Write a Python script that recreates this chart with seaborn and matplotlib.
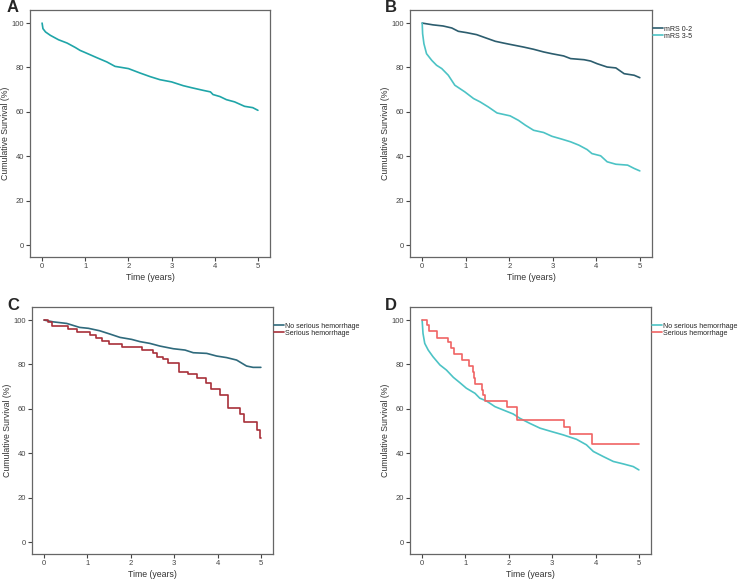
import numpy as np
import pandas as pd
import matplotlib
matplotlib.use("Agg")
import matplotlib.pyplot as plt
import seaborn as sns

sns.set_style("ticks")
plt.rcParams['font.family'] = ['Liberation Sans', 'DejaVu Sans']

# ---- data (time in years, survival in %) ----
# A: overall
a_t = [0, 0.02, 0.08, 0.19, 0.38, 0.58, 0.77, 0.88, 1.0, 1.27, 1.5, 1.69, 2.0, 2.27, 2.5,
       2.73, 3.0, 3.27, 3.46, 3.73, 3.9, 3.96, 4.12, 4.27, 4.46, 4.69, 4.88, 5.0]
a_s = [100, 97.5, 96, 94.5, 92.5, 91, 89, 87.7, 86.7, 84.4, 82.5, 80.5, 79.5, 77.5, 75.9,
       74.5, 73.5, 71.8, 70.9, 69.7, 69, 67.8, 66.9, 65.5, 64.5, 62.5, 61.9, 60.7]

# B: by mRS
b1_t = [0, 0.25, 0.48, 0.68, 0.83, 1.02, 1.25, 1.45, 1.68, 1.87, 2.02, 2.33, 2.56, 2.79,
        2.98, 3.25, 3.41, 3.72, 3.87, 4.02, 4.25, 4.45, 4.64, 4.87, 5.0]
b1_s = [100, 99.2, 98.7, 97.8, 96.3, 95.7, 94.8, 93.4, 91.8, 91, 90.4, 89.2, 88.2, 87,
        86.2, 85.2, 84, 83.5, 82.9, 81.7, 80.2, 79.8, 77.2, 76.5, 75.4]
b2_t = [0, 0.01, 0.04, 0.1, 0.22, 0.33, 0.45, 0.6, 0.75, 0.98, 1.18, 1.33, 1.52, 1.72, 2.02,
        2.21, 2.37, 2.56, 2.79, 2.98, 3.21, 3.41, 3.6, 3.79, 3.9, 4.1, 4.25, 4.45, 4.72, 4.87, 5.0]
b2_s = [100, 95.2, 90.7, 86.2, 83.2, 81, 79.5, 76.5, 72, 69, 66, 64.5, 62.2, 59.5, 58.2,
        56.2, 54, 51.7, 50.7, 49, 47.7, 46.5, 45, 43, 41.2, 40.2, 37.5, 36.4, 36, 34.5, 33.4]

# C: mRS 0-2, by serious hemorrhage
c1_t = [0, 0.21, 0.52, 0.82, 1.02, 1.28, 1.52, 1.75, 2.02, 2.21, 2.44, 2.67, 2.98, 3.25,
        3.44, 3.75, 3.98, 4.21, 4.44, 4.67, 4.82, 5.0]
c1_s = [100, 99.2, 98.5, 96.7, 96.3, 95.2, 93.7, 92.2, 91.3, 90.3, 89.5, 88.3, 87.1, 86.5,
        85.3, 85, 83.8, 83.1, 82, 79.3, 78.7, 78.7]
c2_t = [0, 0.1, 0.17, 0.55, 0.75, 1.06, 1.2, 1.34, 1.5, 1.79, 2.25, 2.52, 2.6, 2.75, 2.86,
        3.1, 3.33, 3.53, 3.73, 3.84, 4.06, 4.25, 4.52, 4.61, 4.9, 4.99, 5.0]
c2_s = [100, 99, 97.4, 96, 94.7, 93.5, 92, 90.7, 89.3, 88, 86.6, 85, 83.5, 82.3, 80.8,
        76.8, 75.5, 73.7, 71.5, 68.9, 66.2, 60.2, 57.5, 54.2, 50.7, 46.7, 46.7]

# D: mRS 3-5, by serious hemorrhage
d1_t = [0, 0.02, 0.06, 0.14, 0.25, 0.41, 0.56, 0.72, 0.87, 1.02, 1.22, 1.33, 1.48, 1.68,
        1.87, 2.1, 2.25, 2.48, 2.72, 2.98, 3.25, 3.56, 3.79, 3.95, 4.18, 4.41, 4.64, 4.87, 5.0]
d1_s = [100, 94, 89.5, 86.5, 83.5, 79.8, 77.5, 74.2, 71.8, 69.3, 67, 64.8, 63.6, 61,
        59.5, 57.7, 55.8, 53.5, 51.3, 49.8, 48.3, 46.3, 43.8, 40.8, 38.5, 36.3, 35.2, 34, 32.5]
d2_t = [0, 0.12, 0.155, 0.35, 0.6, 0.66, 0.74, 0.91, 1.09, 1.18, 1.2, 1.22, 1.37, 1.41,
        1.46, 1.95, 2.18, 2.2, 3.27, 3.41, 3.91, 5.0]
d2_s = [100, 97.7, 95, 92, 90, 87.5, 84.6, 82, 79.5, 76.5, 74, 71.1, 68.5, 66.3,
        63.6, 61, 58, 55, 51.7, 48.6, 44.1, 44.1]

panels = [
    ("A", [(a_t, a_s, None, "#1fa5a8", False)]),
    ("B", [(b1_t, b1_s, "mRS 0-2", "#2c5d6e", False),
           (b2_t, b2_s, "mRS 3-5", "#4cc3c5", False)]),
    ("C", [(c1_t, c1_s, "No serious hemorrhage", "#2f6a7c", False),
           (c2_t, c2_s, "Serious hemorrhage", "#a8303a", True)]),
    ("D", [(d1_t, d1_s, "No serious hemorrhage", "#4cc3c5", False),
           (d2_t, d2_s, "Serious hemorrhage", "#f06464", True)]),
]

W, H = 738, 581
fig = plt.figure(figsize=(W / 100, H / 100), dpi=100)
boxes = {"A": (30, 10, 270, 257), "B": (410, 10, 652, 257),
         "C": (32, 307, 273, 554), "D": (410, 307, 651, 554)}
letters = {"A": (7, 8), "B": (385, 8), "C": (7, 305), "D": (385, 305)}

for name, series in panels:
    x0, y0, x1, y1 = boxes[name]
    ax = fig.add_axes([x0 / W, 1 - y1 / H, (x1 - x0) / W, (y1 - y0) / H])
    for t, s, lab, col, step in series:
        df = pd.DataFrame({"t": t, "s": s})
        sns.lineplot(data=df, x="t", y="s", ax=ax, color=col, linewidth=1.2,
                     estimator=None, sort=False, label=lab,
                     drawstyle="steps-post" if step else "default")
    ax.set_xlim(-0.28, 5.28)
    ax.set_ylim(-5.4, 105.9)
    ax.set_xticks(range(6))
    ax.set_yticks(range(0, 101, 20))
    ax.tick_params(labelsize=5.5, length=3, width=0.8, colors="#444444", pad=1.5)
    for sp in ax.spines.values():
        sp.set_color("#666666")
        sp.set_linewidth(0.9)
    ax.set_xlabel("Time (years)", fontsize=6.3, color="#333333")
    ax.set_ylabel("Cumulative Survival (%)", fontsize=6.3, color="#333333")
    ax.yaxis.set_label_coords(-0.083, 0.5)
    ax.xaxis.set_label_coords(0.5, -0.066)
    if series[0][2] is not None:
        ax.legend(loc="upper left", bbox_to_anchor=(1.0, 0.94), frameon=False,
                  fontsize=5.1, handlelength=1.5, handletextpad=0.1,
                  labelspacing=0.05, borderaxespad=0, borderpad=0.1)
    else:
        leg = ax.get_legend()
        if leg is not None:
            leg.remove()
    lx, ly = letters[name]
    fig.text(lx / W, 1 - ly / H, name, fontsize=12, fontweight="bold",
             ha="left", va="center")

fig.savefig("out.png", dpi=100)
